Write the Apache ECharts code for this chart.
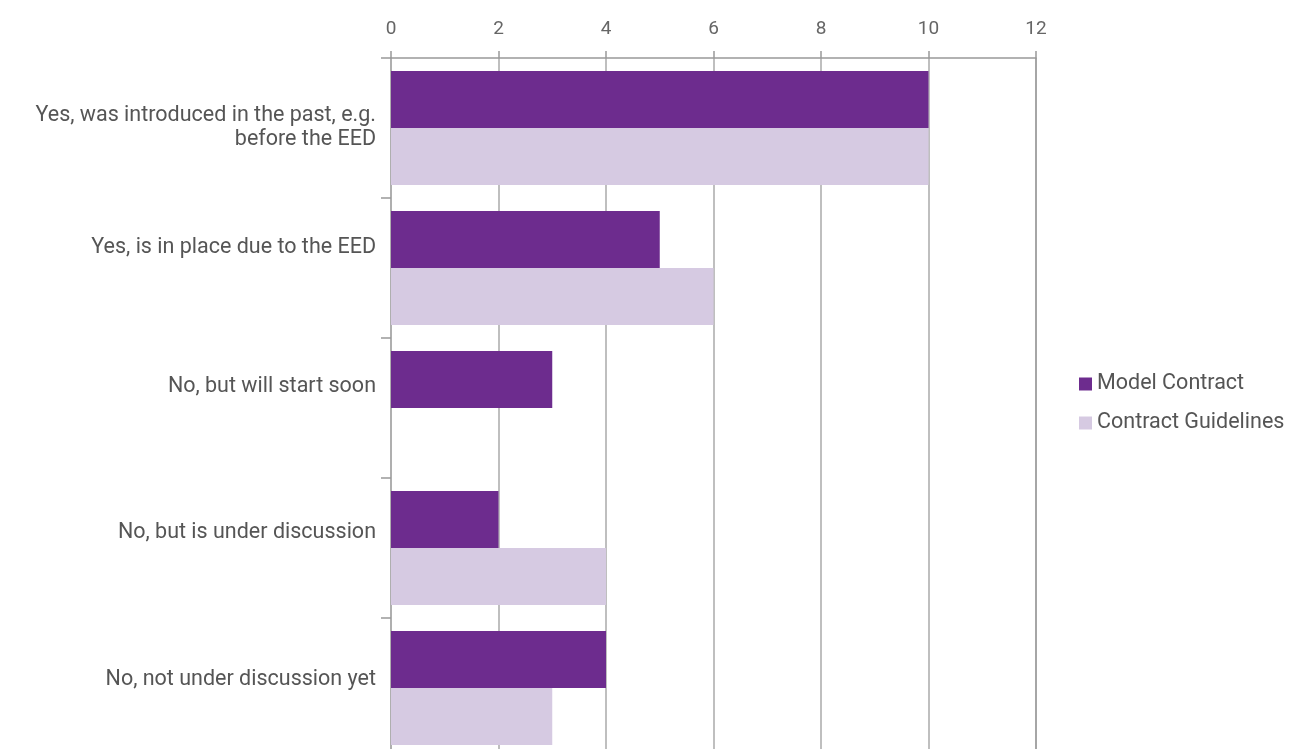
<!DOCTYPE html>
<html>
<head>
<meta charset="utf-8">
<script src="https://cdn.jsdelivr.net/npm/echarts@6/dist/echarts.min.js"></script>
<style>
  html, body { margin: 0; padding: 0; background: #fff; }
  #chart { width: 1316px; height: 749px; }
</style>
</head>
<body>
<div id="chart"></div>
<script>
// Survey answers, top to bottom
const categories = [
  'Yes, was introduced in the past, e.g.\nbefore the EED',
  'Yes, is in place due to the EED',
  'No, but will start soon',
  'No, but is under discussion',
  'No, not under discussion yet'
];
const modelContract = [10, 5, 3, 2, 4];
const contractGuidelines = [10, 6, 0, 4, 3];
const seriesNames = ['Model Contract', 'Contract Guidelines'];

const FONT = 'Roboto, "DejaVu Sans", sans-serif';
const PURPLE = '#6d2c8e';
const LAVENDER = '#d6cae2';

// how far (px) each category label sits above the middle of its band
const labelLift = [0, 20, 21, 15, 8];

// rich styles: text lines plus an invisible spacer line under lifted labels
const labelRich = {
  t: { color: '#555', fontSize: 21.5, fontFamily: FONT, lineHeight: 24 }
};
labelLift.forEach((lift, i) => {
  if (lift > 0) {
    labelRich['g' + i] = { fontSize: 1, lineHeight: lift * 2, height: lift * 2 };
  }
});

function formatCategory(value, index) {
  const lines = value.split('\n').map(line => '{t|' + line + '}');
  const lift = labelLift[index] || 0;
  if (lift > 0) lines.push('{g' + index + '| }');
  return lines.join('\n');
}

const chart = echarts.init(document.getElementById('chart'), null, { renderer: 'canvas' });

chart.setOption({
  animation: false,
  backgroundColor: '#ffffff',
  textStyle: { fontFamily: FONT },
  // plot area runs a little past the bottom edge of the canvas
  grid: {
    left: 391, top: 58, width: 645, height: 700,
    containLabel: false,
    outerBoundsMode: 'none'
  },
  legend: {
    orient: 'vertical',
    left: 1074,
    top: 368,
    itemWidth: 13,
    itemHeight: 13,
    itemGap: 17,
    icon: 'rect',
    textStyle: { fontFamily: FONT, fontSize: 21.5, color: '#555' },
    data: seriesNames
  },
  xAxis: {
    type: 'value',
    position: 'top',
    min: 0,
    max: 12,
    interval: 2,
    axisLine: { show: true, lineStyle: { color: '#999', width: 1.5 } },
    axisTick: { show: true, length: 7, lineStyle: { color: '#999', width: 1.5 } },
    axisLabel: { color: '#666', fontSize: 19, fontFamily: FONT, margin: 19 },
    splitLine: {
      show: true,
      lineStyle: { color: ['#aaa', '#aaa', '#aaa', '#aaa', '#aaa', '#aaa', '#888'], width: 1.5 }
    }
  },
  yAxis: {
    type: 'category',
    inverse: true,
    data: categories,
    axisLine: { show: true, lineStyle: { color: '#aaa', width: 1.5 } },
    axisTick: { show: true, length: 10, lineStyle: { color: '#999', width: 1.5 } },
    axisLabel: {
      color: '#555',
      fontSize: 21.5,
      fontFamily: FONT,
      margin: 15,
      lineHeight: 24,
      align: 'right',
      formatter: formatCategory,
      rich: labelRich
    },
    splitLine: { show: false }
  },
  series: [
    {
      name: seriesNames[0],
      type: 'bar',
      data: modelContract,
      barWidth: 57,
      barGap: '0%',
      itemStyle: { color: PURPLE }
    },
    {
      name: seriesNames[1],
      type: 'bar',
      data: contractGuidelines,
      barWidth: 57,
      barGap: '0%',
      itemStyle: { color: LAVENDER }
    }
  ]
});
</script>
</body>
</html>
